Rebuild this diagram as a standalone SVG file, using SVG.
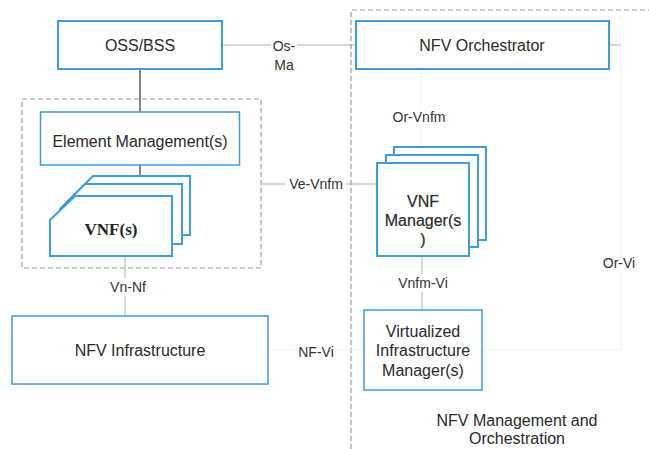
<svg xmlns="http://www.w3.org/2000/svg" width="649" height="449" viewBox="0 0 649 449">
<style>
text{font-family:"Liberation Sans",Arial,sans-serif;fill:#2a2a2a;text-anchor:middle}
.t16{font-size:16px}
.lbl{font-size:14px;fill:#333}
.box{fill:#fff;stroke:#3d9be0;stroke-width:1.5}
.box2{fill:#fff;stroke:#3d9be0;stroke-width:2}
.dash{fill:none;stroke:#9a9a9a;stroke-width:1.2;stroke-dasharray:5,3}
.blk{stroke:#333;stroke-width:1.2;fill:none}
.gry{stroke:#b0b0b0;stroke-width:1;fill:none}
.fnt{stroke:#f2f2f2;stroke-width:1;fill:none}
.bt{stroke:#2a2a2a;stroke-width:0.2}
</style>
<rect width="649" height="449" fill="#fff"/>
<g id="groups">
<rect class="dash" x="22" y="99" width="239" height="169"/>
<path class="dash" d="M351,449 V10 H649"/>
</g>
<g id="connectors">
<line class="blk" x1="140" y1="69" x2="140" y2="112"/>
<line class="blk" x1="140" y1="165" x2="140" y2="184"/>
<path class="gry" d="M222,45 H271 M297,45 H356"/>
<path class="gry" d="M261,184 H285 M346,184 H377"/>
<path class="gry" d="M125,256 V278 M125,296 V316"/>
<path class="fnt" d="M421,69 V108 M421,127 V147"/>
<path class="gry" d="M422,256 V274 M422,292 V310"/>
<path class="fnt" d="M268,350 H298 M334,350 H364"/>
<path class="gry" d="M609,45 H621"/>
<path class="fnt" d="M621,45 V254 M621,272 V350 H482"/>
</g>
<g id="oss-bss">
<rect class="box2" x="58" y="21" width="164" height="48"/>
<text class="t16" x="140" y="51">OSS/BSS</text>
</g>
<g id="element-management">
<rect class="box" x="40.5" y="112" width="199" height="53"/>
<text class="t16" x="140" y="147">Element Management(s)</text>
</g>
<g id="vnfs">
<path class="box2" d="M68,201 L93,176 H190 V235 H68 Z"/>
<path class="box2" d="M60,209 L85,184 H182 V244 H60 Z"/>
<path class="box2" d="M50,220 L75,196 H172 V256 H50 Z"/>
<text x="111" y="235" style="font-family:'Liberation Serif','Times New Roman',serif;font-weight:bold;font-size:17px;fill:#222">VNF(s)</text>
</g>
<g id="nfv-orchestrator">
<rect class="box2" x="356" y="21" width="253" height="48"/>
<text class="t16" x="482" y="51">NFV Orchestrator</text>
</g>
<g id="vnf-manager">
<rect class="box2" x="394" y="147" width="92" height="93"/>
<rect class="box2" x="386" y="155" width="92" height="92"/>
<rect class="box2" x="377" y="163" width="92" height="93"/>
<text class="t16 bt" x="423" y="207">VNF</text>
<text class="t16 bt" x="423" y="226">Manager(s</text>
<text class="t16 bt" x="423" y="245">)</text>
</g>
<g id="nfv-infrastructure">
<rect class="box" x="12" y="316" width="256" height="68"/>
<text class="t16" x="140" y="356">NFV Infrastructure</text>
</g>
<g id="vim">
<rect class="box" x="364" y="310" width="118" height="80"/>
<text class="t16" x="423" y="337">Virtualized</text>
<text class="t16" x="423" y="356">Infrastructure</text>
<text class="t16" x="423" y="376">Manager(s)</text>
</g>
<g id="labels">
<text class="lbl" x="284" y="51">Os-</text>
<text class="lbl" x="284" y="70">Ma</text>
<text class="lbl" x="419" y="122">Or-Vnfm</text>
<text class="lbl" x="316" y="189">Ve-Vnfm</text>
<text class="lbl" x="128" y="292">Vn-Nf</text>
<text class="lbl" x="423" y="288">Vnfm-Vi</text>
<text class="lbl" x="316" y="357">NF-Vi</text>
<text class="lbl" x="619" y="268">Or-Vi</text>
<text class="t16" x="517" y="426">NFV Management and</text>
<text class="t16" x="517" y="444">Orchestration</text>
</g>
</svg>
